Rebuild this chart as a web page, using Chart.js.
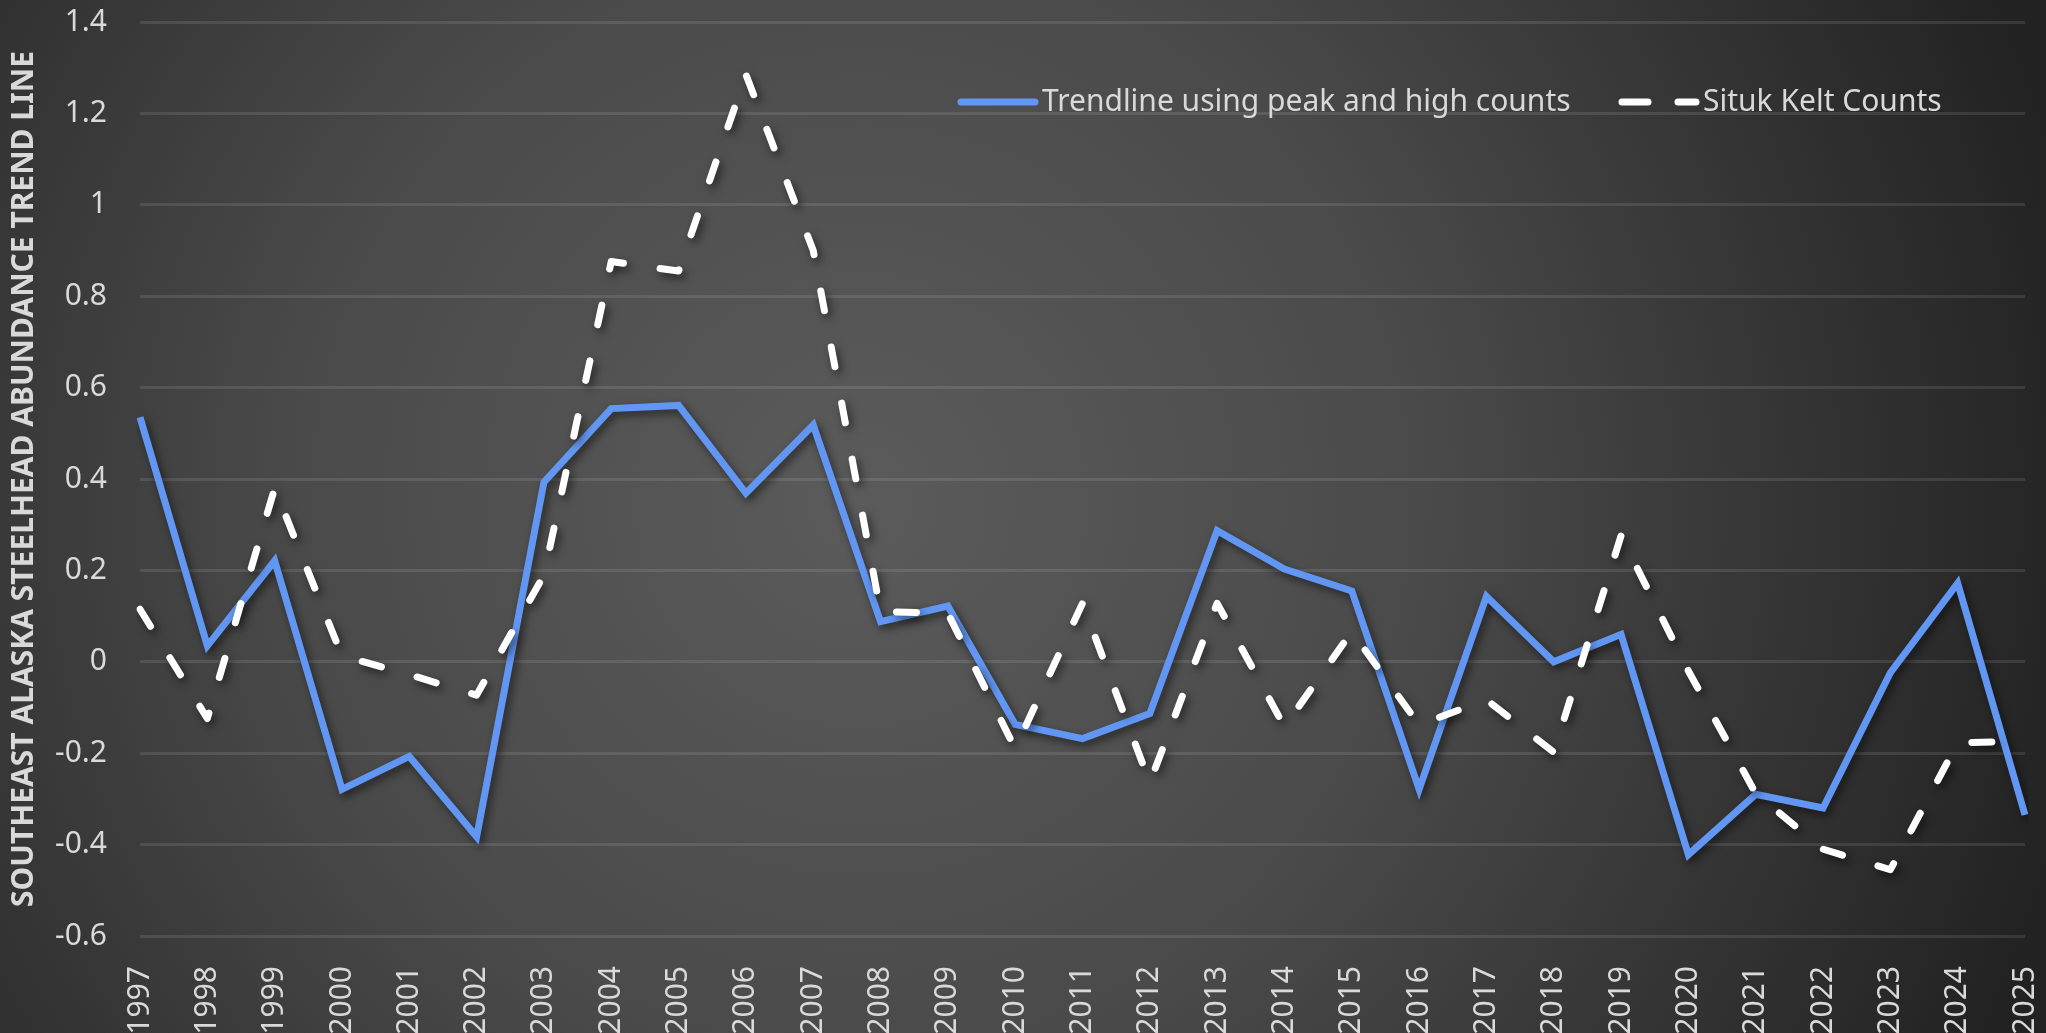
<!DOCTYPE html>
<html>
<head>
<meta charset="utf-8">
<script src="https://cdn.jsdelivr.net/npm/chart.js@4.4.1/dist/chart.umd.min.js"></script>
<style>
  html, body { margin: 0; padding: 0; background: #2a2a2a; }
  #wrap { width: 2046px; height: 1033px; position: relative; }
</style>
</head>
<body>
<div id="wrap"><canvas id="myChart"></canvas></div>
<script>
const years = ["1997", "1998", "1999", "2000", "2001", "2002", "2003", "2004", "2005", "2006",
  "2007", "2008", "2009", "2010", "2011", "2012", "2013", "2014", "2015", "2016",
  "2017", "2018", "2019", "2020", "2021", "2022", "2023", "2024", "2025"];

const trendline = [0.535, 0.035, 0.221, -0.279, -0.207, -0.383, 0.393, 0.554, 0.561, 0.369,
  0.518, 0.088, 0.122, -0.137, -0.168, -0.113, 0.287, 0.203, 0.155, -0.279,
  0.143, 0.0, 0.06, -0.422, -0.29, -0.32, -0.024, 0.172, -0.335];

const situkKelts = [0.115, -0.124, 0.38, 0.013, -0.028, -0.073, 0.19, 0.876, 0.855, 1.285,
  0.9, 0.11, 0.106, -0.19, 0.128, -0.265, 0.128, -0.142, 0.066, -0.138,
  -0.083, -0.198, 0.276, -0.02, -0.288, -0.41, -0.455, -0.177, -0.174];

const yTickValues = [-0.6, -0.4, -0.2, 0, 0.2, 0.4, 0.6, 0.8, 1, 1.2, 1.4];
const yTickLabels = ["-0.6", "-0.4", "-0.2", "0", "0.2", "0.4", "0.6", "0.8", "1", "1.2", "1.4"];

const seriesNames = ["Trendline using peak and high counts", "Situk Kelt Counts"];
const axisTitle = "SOUTHEAST ALASKA STEELHEAD ABUNDANCE TREND LINE";

const FONT = "'Noto Sans', 'Open Sans', sans-serif";
const TEXT = "#d9d9d9";
const BLUE = "#6196f2";

// dark radial backdrop
const backdrop = {
  id: "backdrop",
  beforeDraw(chart) {
    const { ctx, width, height } = chart;
    const g = ctx.createRadialGradient(860, 500, 0, 860, 500, 1250);
    g.addColorStop(0, "#5b5b5b");
    g.addColorStop(0.45, "#4a4a4a");
    g.addColorStop(1, "#222222");
    ctx.save();
    ctx.fillStyle = g;
    ctx.fillRect(0, 0, width, height);
    ctx.restore();
  },
};

// soft shadow under the lines
const lineShadow = {
  id: "lineShadow",
  beforeDatasetDraw(chart) {
    const ctx = chart.ctx;
    ctx.save();
    ctx.shadowColor = "rgba(0,0,0,0.55)";
    ctx.shadowBlur = 9;
    ctx.shadowOffsetX = 3;
    ctx.shadowOffsetY = 4;
  },
  afterDatasetDraw(chart) {
    chart.ctx.restore();
  },
};

// legend sitting inside the plot, top right
const innerLegend = {
  id: "innerLegend",
  afterDatasetsDraw(chart) {
    const ctx = chart.ctx;
    const items = [
      { x: 957, ds: chart.data.datasets[0] },
      { x: 1618, ds: chart.data.datasets[1] },
    ];
    const y = 102;
    ctx.save();
    ctx.font = "30px " + FONT;
    ctx.textBaseline = "middle";
    ctx.fillStyle = TEXT;
    items.forEach((it) => {
      ctx.beginPath();
      ctx.strokeStyle = it.ds.borderColor;
      ctx.lineWidth = it.ds.borderWidth;
      ctx.lineCap = "round";
      ctx.setLineDash(it.ds.borderDash ? [26, 30] : []);
      ctx.moveTo(it.x + 4, y);
      ctx.lineTo(it.x + 78, y);
      ctx.stroke();
      ctx.setLineDash([]);
      ctx.fillText(it.ds.label, it.x + 85, y);
    });
    ctx.restore();
  },
};

new Chart(document.getElementById("myChart"), {
  type: "line",
  data: {
    labels: years,
    datasets: [
      {
        label: seriesNames[0],
        data: trendline,
        borderColor: BLUE,
        borderWidth: 7,
        pointRadius: 0,
        tension: 0,
        borderJoinStyle: "miter",
        order: 1,
      },
      {
        label: seriesNames[1],
        data: situkKelts,
        borderColor: "#ffffff",
        borderWidth: 7,
        borderDash: [20, 37],
        borderCapStyle: "round",
        borderJoinStyle: "round",
        pointRadius: 0,
        tension: 0,
        order: 0,
      },
    ],
  },
  options: {
    responsive: true,
    maintainAspectRatio: false,
    animation: false,
    layout: { padding: { top: 22, right: 21, left: 0, bottom: 0 } },
    plugins: {
      legend: { display: false },
      tooltip: { enabled: false },
    },
    scales: {
      x: {
        offset: false,
        grid: { display: false },
        border: { display: false },
        ticks: {
          color: TEXT,
          font: { family: FONT, size: 30 },
          minRotation: 90,
          maxRotation: 90,
          autoSkip: false,
          padding: 22,
        },
        afterFit(scale) {
          scale.height = 97;
          scale.paddingLeft = 0;
          scale.paddingRight = 0;
        },
      },
      y: {
        min: -0.6,
        max: 1.4,
        afterBuildTicks(scale) {
          scale.ticks = yTickValues.map((v) => ({ value: v }));
        },
        grid: { color: "rgba(255,255,255,0.1)", lineWidth: 3, drawTicks: false },
        border: { display: false },
        ticks: {
          color: TEXT,
          font: { family: FONT, size: 30 },
          padding: 33,
          callback: (v, i) => yTickLabels[i],
        },
        title: {
          display: true,
          text: axisTitle,
          color: TEXT,
          font: { family: FONT, size: 30, weight: "bold" },
          padding: { top: 6, bottom: 0 },
        },
        afterFit(scale) {
          scale.width = 140;
          scale.paddingTop = 0;
          scale.paddingBottom = 0;
        },
      },
    },
  },
  plugins: [backdrop, lineShadow, innerLegend],
});
</script>
</body>
</html>
